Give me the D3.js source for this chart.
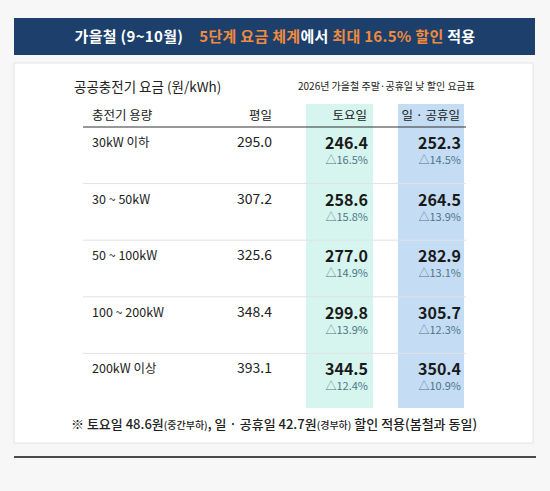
<!DOCTYPE html>
<html><head><meta charset="utf-8">
<script src="https://cdn.jsdelivr.net/npm/d3@7"></script>
<style>body{margin:0;background:#f7f7f7;}</style>
</head><body>
<script>
var capacity = ["30kW 이하", "30 ~ 50kW", "50 ~ 100kW", "100 ~ 200kW", "200kW 이상"];
var weekday = [295.0, 307.2, 325.6, 348.4, 393.1];
var saturday = [246.4, 258.6, 277.0, 299.8, 344.5];
var satCut = [16.5, 15.8, 14.9, 13.9, 12.4];
var holiday = [252.3, 264.5, 282.9, 305.7, 350.4];
var holCut = [14.5, 13.9, 13.1, 12.3, 10.9];

var width = 550, height = 491;
var font = "'Noto Sans CJK KR', 'Noto Sans', sans-serif";

var svg = d3.select("body").append("svg")
	.attr("width", width).attr("height", height)
	.style("font-family", font);

svg.append("rect").attr("width", width).attr("height", height).attr("fill", "#f7f7f7");

// banner
svg.append("rect").attr("x", 14).attr("y", 18).attr("width", 521).attr("height", 37).attr("fill", "#1c3f6b");
var ban = svg.append("text").attr("x", 275).attr("y", 42).attr("text-anchor", "middle")
	.attr("font-size", 15).attr("font-weight", "bold").attr("letter-spacing", 0.3);
ban.append("tspan").attr("fill", "#fff").text("가을철 (9~10월)");
ban.append("tspan").attr("dx", 16).attr("fill", "#f08a3c").text("5단계 요금 체계");
ban.append("tspan").attr("fill", "#fff").text("에서 ");
ban.append("tspan").attr("fill", "#f08a3c").text("최대 16.5% 할인");
ban.append("tspan").attr("fill", "#fff").text(" 적용");

// card
svg.append("rect").attr("x", 14).attr("y", 63).attr("width", 519).attr("height", 380)
	.attr("fill", "#fff").attr("stroke", "#e4e4e4");

svg.append("text").attr("x", 74).attr("y", 92).attr("font-size", 13.5).attr("fill", "#222")
	.text("공공충전기 요금 (원/kWh)");
svg.append("text").attr("x", 475).attr("y", 90).attr("text-anchor", "end").attr("font-size", 10).attr("fill", "#222")
	.text("2026년 가을철 주말·공휴일 낮 할인 요금표");

var y = d3.scaleBand().domain(d3.range(capacity.length)).range([127, 410]);

// column highlights
svg.append("rect").attr("x", 306).attr("y", 104).attr("width", 67).attr("height", 304).attr("fill", "#d6f5ee");
svg.append("rect").attr("x", 398).attr("y", 104).attr("width", 66).attr("height", 304).attr("fill", "#c4ddf5");

// header
var hy = 120;
svg.append("text").attr("x", 92).attr("y", hy).attr("font-size", 12.5).attr("fill", "#222").text("충전기 용량");
svg.append("text").attr("x", 272).attr("y", hy).attr("text-anchor", "end").attr("font-size", 12.5).attr("fill", "#222").text("평일");
svg.append("text").attr("x", 367).attr("y", hy).attr("text-anchor", "end").attr("font-size", 12.5).attr("fill", "#222").text("토요일");
svg.append("text").attr("x", 460).attr("y", hy).attr("text-anchor", "end").attr("font-size", 12.5).attr("fill", "#222").text("일 · 공휴일");
svg.append("line").attr("x1", 83).attr("x2", 466).attr("y1", 127).attr("y2", 127).attr("stroke", "#333").attr("stroke-width", 1.2);

// row separators
svg.selectAll("line.sep").data(d3.range(1, capacity.length)).enter().append("line")
	.attr("x1", 83).attr("x2", 466)
	.attr("y1", function (d) { return y(d); }).attr("y2", function (d) { return y(d); })
	.attr("stroke", "#e2e2e2");

var rows = svg.selectAll("g.row").data(capacity).enter().append("g")
	.attr("transform", function (d, i) { return "translate(0," + y(i) + ")"; });

rows.append("text").attr("x", 92).attr("y", 20).attr("font-size", 12.5).attr("fill", "#222")
	.text(function (d) { return d; });
rows.append("text").attr("x", 272).attr("y", 20).attr("text-anchor", "end").attr("font-size", 14).attr("fill", "#222")
	.text(function (d, i) { return weekday[i].toFixed(1); });
rows.append("text").attr("x", 368).attr("y", 22).attr("text-anchor", "end").attr("font-size", 16).attr("font-weight", "bold").attr("fill", "#1a1a1a")
	.text(function (d, i) { return saturday[i].toFixed(1); });
rows.append("text").attr("x", 368).attr("y", 37).attr("text-anchor", "end").attr("font-size", 11).attr("fill", "#4f7686")
	.text(function (d, i) { return "△" + satCut[i].toFixed(1) + "%"; });
rows.append("text").attr("x", 461).attr("y", 22).attr("text-anchor", "end").attr("font-size", 16).attr("font-weight", "bold").attr("fill", "#1a1a1a")
	.text(function (d, i) { return holiday[i].toFixed(1); });
rows.append("text").attr("x", 461).attr("y", 37).attr("text-anchor", "end").attr("font-size", 11).attr("fill", "#4f7686")
	.text(function (d, i) { return "△" + holCut[i].toFixed(1) + "%"; });

// footnote
var fn = svg.append("text").attr("x", 274).attr("y", 429).attr("text-anchor", "middle").attr("font-size", 13)
	.attr("font-weight", 500).attr("fill", "#222");
fn.append("tspan").text("※ 토요일 48.6원");
fn.append("tspan").attr("font-size", 10).text("(중간부하)");
fn.append("tspan").text(", 일 · 공휴일 42.7원");
fn.append("tspan").attr("font-size", 10).text("(경부하)");
fn.append("tspan").text(" 할인 적용(봄철과 동일)");

svg.append("line").attr("x1", 14).attr("x2", 536).attr("y1", 457).attr("y2", 457).attr("stroke", "#111").attr("stroke-width", 1.5);
</script>
</body></html>
